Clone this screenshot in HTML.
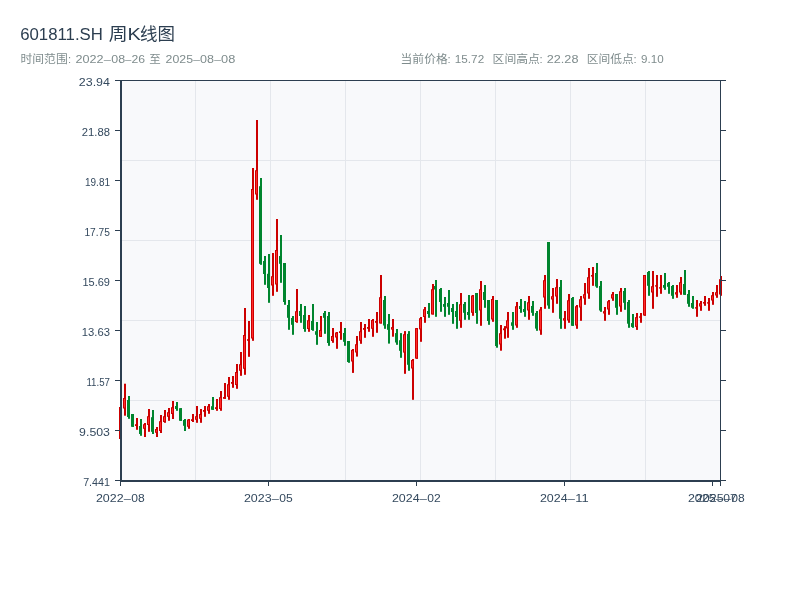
<!DOCTYPE html>
<html lang="zh"><head><meta charset="utf-8"><title>601811.SH 周K线图</title>
<style>html,body{margin:0;padding:0;background:#fff;overflow:hidden}svg{display:block}text{font-family:"Liberation Sans","Noto Sans CJK SC",sans-serif;white-space:pre}</style></head><body>
<svg width="800" height="600" viewBox="0 0 800 600">
<rect width="800" height="600" fill="#fff"/>
<text y="40.0" font-size="17.4" fill="#2c3e50"><tspan x="20.13" textLength="82.74" lengthAdjust="spacingAndGlyphs">601811.SH</tspan><tspan x="104.00"> </tspan><tspan x="108.70" textLength="18.90" lengthAdjust="spacingAndGlyphs">周</tspan><tspan x="127.53" textLength="13.34" lengthAdjust="spacingAndGlyphs">K</tspan><tspan x="139.95" textLength="35.00" lengthAdjust="spacingAndGlyphs">线图</tspan></text>
<text y="62.8" font-size="11.25" fill="#7f8c8d"><tspan x="20.50" textLength="47.20" lengthAdjust="spacingAndGlyphs" font-size="11.6">时间范围</tspan><tspan x="67.90">:</tspan><tspan x="72.00"> </tspan><tspan x="75.44" textLength="28.12" lengthAdjust="spacingAndGlyphs">2022</tspan><tspan x="102.52" fill-opacity="0.8" textLength="9.65" lengthAdjust="spacingAndGlyphs">-</tspan><tspan x="111.24" textLength="13.83" lengthAdjust="spacingAndGlyphs">08</tspan><tspan x="124.09" fill-opacity="0.8" textLength="8.43" lengthAdjust="spacingAndGlyphs">-</tspan><tspan x="131.44" textLength="13.62" lengthAdjust="spacingAndGlyphs">26</tspan><tspan x="146.00"> </tspan><tspan x="149.20" textLength="11.50" lengthAdjust="spacingAndGlyphs" font-size="11.6">至</tspan><tspan x="162.00"> </tspan><tspan x="165.64" textLength="27.43" lengthAdjust="spacingAndGlyphs">2025</tspan><tspan x="192.10" fill-opacity="0.8" textLength="9.11" lengthAdjust="spacingAndGlyphs">-</tspan><tspan x="200.14" textLength="13.93" lengthAdjust="spacingAndGlyphs">08</tspan><tspan x="213.10" fill-opacity="0.8" textLength="9.11" lengthAdjust="spacingAndGlyphs">-</tspan><tspan x="221.14" textLength="14.23" lengthAdjust="spacingAndGlyphs">08</tspan></text>
<text y="62.8" font-size="11.25" fill="#7f8c8d"><tspan x="400.60" textLength="47.10" lengthAdjust="spacingAndGlyphs" font-size="11.6">当前价格</tspan><tspan x="447.60">:</tspan><tspan x="452.00"> </tspan><tspan x="454.84" textLength="29.33" lengthAdjust="spacingAndGlyphs">15.72</tspan><tspan x="484.00"> </tspan><tspan x="488.00"> </tspan><tspan x="492.60" textLength="47.30" lengthAdjust="spacingAndGlyphs" font-size="11.6">区间高点</tspan><tspan x="539.40">:</tspan><tspan x="544.00"> </tspan><tspan x="546.74" textLength="31.73" lengthAdjust="spacingAndGlyphs">22.28</tspan><tspan x="579.00"> </tspan><tspan x="583.00"> </tspan><tspan x="586.70" textLength="47.00" lengthAdjust="spacingAndGlyphs" font-size="11.6">区间低点</tspan><tspan x="633.60">:</tspan><tspan x="638.00"> </tspan><tspan x="641.04" textLength="22.62" lengthAdjust="spacingAndGlyphs">9.10</tspan></text>
<rect x="121" y="80.5" width="599.5" height="400" fill="#f8f9fb"/>
<rect x="195" y="81" width="1" height="399" fill="#e4e7ec"/>
<rect x="270" y="81" width="1" height="399" fill="#e4e7ec"/>
<rect x="345" y="81" width="1" height="399" fill="#e4e7ec"/>
<rect x="420" y="81" width="1" height="399" fill="#e4e7ec"/>
<rect x="495" y="81" width="1" height="399" fill="#e4e7ec"/>
<rect x="570" y="81" width="1" height="399" fill="#e4e7ec"/>
<rect x="645" y="81" width="1" height="399" fill="#e4e7ec"/>
<rect x="122" y="160" width="598" height="1" fill="#e4e7ec"/>
<rect x="122" y="240" width="598" height="1" fill="#e4e7ec"/>
<rect x="122" y="320" width="598" height="1" fill="#e4e7ec"/>
<rect x="122" y="400" width="598" height="1" fill="#e4e7ec"/>
<rect x="120" y="406.5" width="2" height="33.0" fill="#cc0000"/>
<rect x="119" y="407" width="3" height="32" fill="#cc0000"/>
<rect x="120" y="408" width="1" height="30" fill="#ff2b2b"/>
<rect x="124" y="383.7" width="2" height="32.0" fill="#cc0000"/>
<rect x="123" y="398" width="3" height="10.5" fill="#cc0000"/>
<rect x="124" y="399" width="1" height="8.5" fill="#ff2b2b"/>
<rect x="128" y="396" width="2" height="22.8" fill="#00852e"/>
<rect x="127" y="400" width="3" height="17" fill="#00852e"/>
<rect x="132" y="414" width="2" height="12.8" fill="#00852e"/>
<rect x="131" y="414" width="3" height="12.8" fill="#00852e"/>
<rect x="136" y="418" width="2" height="11.8" fill="#cc0000"/>
<rect x="135" y="424.2" width="3" height="1.8" fill="#cc0000"/>
<rect x="140" y="419" width="2" height="16.8" fill="#00852e"/>
<rect x="139" y="426" width="3" height="8" fill="#00852e"/>
<rect x="144" y="423" width="2" height="14" fill="#cc0000"/>
<rect x="143" y="424.2" width="3" height="4.6" fill="#cc0000"/>
<rect x="144" y="425.2" width="1" height="2.6" fill="#ff2b2b"/>
<rect x="148" y="409" width="2" height="22.8" fill="#cc0000"/>
<rect x="147" y="416.2" width="3" height="8.8" fill="#cc0000"/>
<rect x="148" y="417.2" width="1" height="6.8" fill="#ff2b2b"/>
<rect x="152" y="410" width="2" height="24" fill="#00852e"/>
<rect x="151" y="417.2" width="3" height="14.6" fill="#00852e"/>
<rect x="156" y="427" width="2" height="10" fill="#cc0000"/>
<rect x="155" y="429" width="3" height="3.8" fill="#cc0000"/>
<rect x="156" y="430" width="1" height="1.8" fill="#ff2b2b"/>
<rect x="160" y="415" width="2" height="18" fill="#cc0000"/>
<rect x="159" y="421.2" width="3" height="9.8" fill="#cc0000"/>
<rect x="160" y="422.2" width="1" height="7.8" fill="#ff2b2b"/>
<rect x="164" y="410" width="2" height="12.8" fill="#cc0000"/>
<rect x="163" y="416.2" width="3" height="5.8" fill="#cc0000"/>
<rect x="164" y="417.2" width="1" height="3.8" fill="#ff2b2b"/>
<rect x="168" y="408" width="2" height="12.8" fill="#cc0000"/>
<rect x="167" y="412.2" width="3" height="4.6" fill="#cc0000"/>
<rect x="168" y="413.2" width="1" height="2.6" fill="#ff2b2b"/>
<rect x="172" y="401" width="2" height="18" fill="#cc0000"/>
<rect x="171" y="407.2" width="3" height="6.8" fill="#cc0000"/>
<rect x="172" y="408.2" width="1" height="4.8" fill="#ff2b2b"/>
<rect x="176" y="402" width="2" height="8.8" fill="#00852e"/>
<rect x="175" y="406" width="3" height="3" fill="#00852e"/>
<rect x="180" y="408.2" width="2" height="12.6" fill="#00852e"/>
<rect x="179" y="408.2" width="3" height="12.6" fill="#00852e"/>
<rect x="184" y="419" width="2" height="12" fill="#00852e"/>
<rect x="183" y="420" width="3" height="5.8" fill="#00852e"/>
<rect x="188" y="419" width="2" height="9.8" fill="#cc0000"/>
<rect x="187" y="419.5" width="3" height="7.3" fill="#cc0000"/>
<rect x="188" y="420.5" width="1" height="5.3" fill="#ff2b2b"/>
<rect x="192" y="414" width="2" height="8" fill="#cc0000"/>
<rect x="191" y="419.2" width="3" height="1.8" fill="#cc0000"/>
<rect x="196" y="406" width="2" height="16.8" fill="#cc0000"/>
<rect x="195" y="416.2" width="3" height="3.6" fill="#cc0000"/>
<rect x="196" y="417.2" width="1" height="1.6" fill="#ff2b2b"/>
<rect x="200" y="409" width="2" height="13.8" fill="#cc0000"/>
<rect x="199" y="414" width="3" height="4.8" fill="#cc0000"/>
<rect x="200" y="415" width="1" height="2.8" fill="#ff2b2b"/>
<rect x="204" y="406" width="2" height="10.8" fill="#cc0000"/>
<rect x="203" y="410" width="3" height="1.8" fill="#cc0000"/>
<rect x="208" y="404" width="2" height="9.8" fill="#cc0000"/>
<rect x="207" y="406.2" width="3" height="4.6" fill="#cc0000"/>
<rect x="208" y="407.2" width="1" height="2.6" fill="#ff2b2b"/>
<rect x="212" y="397" width="2" height="12.8" fill="#00852e"/>
<rect x="211" y="406.2" width="3" height="3.6" fill="#00852e"/>
<rect x="216" y="399" width="2" height="11.8" fill="#cc0000"/>
<rect x="215" y="407.2" width="3" height="1.8" fill="#cc0000"/>
<rect x="220" y="391" width="2" height="19.8" fill="#cc0000"/>
<rect x="219" y="397.2" width="3" height="11.8" fill="#cc0000"/>
<rect x="220" y="398.2" width="1" height="9.8" fill="#ff2b2b"/>
<rect x="224" y="383" width="2" height="15.8" fill="#cc0000"/>
<rect x="223" y="397" width="3" height="1.8" fill="#cc0000"/>
<rect x="228" y="377" width="2" height="22.8" fill="#cc0000"/>
<rect x="227" y="384.2" width="3" height="12.6" fill="#cc0000"/>
<rect x="228" y="385.2" width="1" height="10.6" fill="#ff2b2b"/>
<rect x="232" y="376" width="2" height="11.8" fill="#cc0000"/>
<rect x="231" y="382" width="3" height="1.8" fill="#cc0000"/>
<rect x="236" y="364" width="2" height="24.8" fill="#cc0000"/>
<rect x="235" y="372" width="3" height="13" fill="#cc0000"/>
<rect x="236" y="373" width="1" height="11" fill="#ff2b2b"/>
<rect x="240" y="352" width="2" height="23.8" fill="#cc0000"/>
<rect x="239" y="364.2" width="3" height="6.6" fill="#cc0000"/>
<rect x="240" y="365.2" width="1" height="4.6" fill="#ff2b2b"/>
<rect x="244" y="308" width="2" height="66.8" fill="#cc0000"/>
<rect x="243" y="335" width="3" height="33.8" fill="#cc0000"/>
<rect x="244" y="336" width="1" height="31.8" fill="#ff2b2b"/>
<rect x="248" y="321" width="2" height="35.8" fill="#cc0000"/>
<rect x="247" y="339.2" width="3" height="1.6" fill="#cc0000"/>
<rect x="252" y="168" width="2" height="172.8" fill="#cc0000"/>
<rect x="251" y="189" width="3" height="149.5" fill="#cc0000"/>
<rect x="252" y="190" width="1" height="147.5" fill="#ff2b2b"/>
<rect x="256" y="120" width="2" height="79.8" fill="#cc0000"/>
<rect x="255" y="170.2" width="3" height="24.3" fill="#cc0000"/>
<rect x="256" y="171.2" width="1" height="22.3" fill="#ff2b2b"/>
<rect x="260" y="178" width="2" height="86.8" fill="#00852e"/>
<rect x="259" y="186.2" width="3" height="77.6" fill="#00852e"/>
<rect x="264" y="256" width="2" height="28.8" fill="#00852e"/>
<rect x="263" y="261" width="3" height="13" fill="#00852e"/>
<rect x="268" y="254" width="2" height="48.8" fill="#00852e"/>
<rect x="267" y="273.8" width="3" height="14.2" fill="#00852e"/>
<rect x="272" y="253" width="2" height="42.8" fill="#cc0000"/>
<rect x="271" y="276.2" width="3" height="9.3" fill="#cc0000"/>
<rect x="272" y="277.2" width="1" height="7.3" fill="#ff2b2b"/>
<rect x="276" y="219" width="2" height="72.8" fill="#cc0000"/>
<rect x="275" y="250" width="3" height="34.5" fill="#cc0000"/>
<rect x="276" y="251" width="1" height="32.5" fill="#ff2b2b"/>
<rect x="280" y="235" width="2" height="47.8" fill="#00852e"/>
<rect x="279" y="256" width="3" height="7.8" fill="#00852e"/>
<rect x="284" y="263" width="2" height="41.8" fill="#00852e"/>
<rect x="283" y="263" width="3" height="39" fill="#00852e"/>
<rect x="288" y="300" width="2" height="29.8" fill="#00852e"/>
<rect x="287" y="305" width="3" height="12.8" fill="#00852e"/>
<rect x="292" y="316" width="2" height="18.8" fill="#00852e"/>
<rect x="291" y="318" width="3" height="6.8" fill="#00852e"/>
<rect x="296" y="289" width="2" height="33.8" fill="#cc0000"/>
<rect x="295" y="311.2" width="3" height="10.8" fill="#cc0000"/>
<rect x="296" y="312.2" width="1" height="8.8" fill="#ff2b2b"/>
<rect x="300" y="304" width="2" height="18.8" fill="#00852e"/>
<rect x="299" y="311" width="3" height="5" fill="#00852e"/>
<rect x="304" y="306" width="2" height="25.8" fill="#00852e"/>
<rect x="303" y="315" width="3" height="14" fill="#00852e"/>
<rect x="308" y="315" width="2" height="16.8" fill="#cc0000"/>
<rect x="307" y="320.2" width="3" height="8.8" fill="#cc0000"/>
<rect x="308" y="321.2" width="1" height="6.8" fill="#ff2b2b"/>
<rect x="312" y="304" width="2" height="26.8" fill="#00852e"/>
<rect x="311" y="321" width="3" height="9" fill="#00852e"/>
<rect x="316" y="322" width="2" height="22.8" fill="#00852e"/>
<rect x="315" y="331.2" width="3" height="3.6" fill="#00852e"/>
<rect x="320" y="316" width="2" height="20.8" fill="#cc0000"/>
<rect x="319" y="330" width="3" height="6.8" fill="#cc0000"/>
<rect x="320" y="331" width="1" height="4.8" fill="#ff2b2b"/>
<rect x="324" y="311" width="2" height="22.8" fill="#00852e"/>
<rect x="323" y="313" width="3" height="4.8" fill="#00852e"/>
<rect x="328" y="312" width="2" height="33.8" fill="#00852e"/>
<rect x="327" y="316" width="3" height="27" fill="#00852e"/>
<rect x="332" y="328" width="2" height="14.8" fill="#cc0000"/>
<rect x="331" y="336" width="3" height="5" fill="#cc0000"/>
<rect x="332" y="337" width="1" height="3" fill="#ff2b2b"/>
<rect x="336" y="332" width="2" height="16.8" fill="#cc0000"/>
<rect x="335" y="332.5" width="3" height="5.0" fill="#cc0000"/>
<rect x="336" y="333.5" width="1" height="3.0" fill="#ff2b2b"/>
<rect x="340" y="322" width="2" height="17.8" fill="#cc0000"/>
<rect x="339" y="331.2" width="3" height="1.8" fill="#cc0000"/>
<rect x="344" y="328" width="2" height="17.8" fill="#00852e"/>
<rect x="343" y="333" width="3" height="8.8" fill="#00852e"/>
<rect x="348" y="341" width="2" height="21.8" fill="#00852e"/>
<rect x="347" y="341" width="3" height="21" fill="#00852e"/>
<rect x="352" y="349" width="2" height="23.9" fill="#cc0000"/>
<rect x="351" y="349.9" width="3" height="11.6" fill="#cc0000"/>
<rect x="352" y="350.9" width="1" height="9.6" fill="#ff2b2b"/>
<rect x="356" y="336" width="2" height="20.6" fill="#cc0000"/>
<rect x="355" y="344.2" width="3" height="8.3" fill="#cc0000"/>
<rect x="356" y="345.2" width="1" height="6.3" fill="#ff2b2b"/>
<rect x="360" y="322" width="2" height="21.8" fill="#cc0000"/>
<rect x="359" y="331.2" width="3" height="9.6" fill="#cc0000"/>
<rect x="360" y="332.2" width="1" height="7.6" fill="#ff2b2b"/>
<rect x="364" y="324" width="2" height="13.8" fill="#cc0000"/>
<rect x="363" y="328" width="3" height="1.8" fill="#cc0000"/>
<rect x="368" y="319" width="2" height="12.8" fill="#cc0000"/>
<rect x="367" y="327" width="3" height="1.8" fill="#cc0000"/>
<rect x="372" y="319" width="2" height="17.8" fill="#cc0000"/>
<rect x="371" y="320" width="3" height="8.8" fill="#cc0000"/>
<rect x="372" y="321" width="1" height="6.8" fill="#ff2b2b"/>
<rect x="376" y="312" width="2" height="20.8" fill="#cc0000"/>
<rect x="375" y="321" width="3" height="1.8" fill="#cc0000"/>
<rect x="380" y="275" width="2" height="48.5" fill="#cc0000"/>
<rect x="379" y="297.2" width="3" height="26.3" fill="#cc0000"/>
<rect x="380" y="298.2" width="1" height="24.3" fill="#ff2b2b"/>
<rect x="384" y="296" width="2" height="32.8" fill="#00852e"/>
<rect x="383" y="300" width="3" height="25.5" fill="#00852e"/>
<rect x="388" y="314" width="2" height="29.6" fill="#00852e"/>
<rect x="387" y="324.1" width="3" height="5.7" fill="#00852e"/>
<rect x="392" y="319" width="2" height="17.7" fill="#cc0000"/>
<rect x="391" y="327.1" width="3" height="2.5" fill="#cc0000"/>
<rect x="392" y="328.1" width="1" height="0.5" fill="#ff2b2b"/>
<rect x="396" y="329" width="2" height="15.8" fill="#00852e"/>
<rect x="395" y="333.1" width="3" height="9.4" fill="#00852e"/>
<rect x="400" y="333.1" width="2" height="24.7" fill="#00852e"/>
<rect x="399" y="340.2" width="3" height="10.6" fill="#00852e"/>
<rect x="404" y="331.1" width="2" height="42.7" fill="#cc0000"/>
<rect x="403" y="334.2" width="3" height="18.4" fill="#cc0000"/>
<rect x="404" y="335.2" width="1" height="16.4" fill="#ff2b2b"/>
<rect x="408" y="331.1" width="2" height="39.7" fill="#00852e"/>
<rect x="407" y="333.9" width="3" height="30.9" fill="#00852e"/>
<rect x="412" y="359" width="2" height="40.8" fill="#cc0000"/>
<rect x="411" y="360" width="3" height="8.5" fill="#cc0000"/>
<rect x="412" y="361" width="1" height="6.5" fill="#ff2b2b"/>
<rect x="416" y="328.1" width="2" height="30.7" fill="#cc0000"/>
<rect x="415" y="328.1" width="3" height="30.5" fill="#cc0000"/>
<rect x="416" y="329.1" width="1" height="28.5" fill="#ff2b2b"/>
<rect x="420" y="317" width="2" height="24.8" fill="#cc0000"/>
<rect x="419" y="318.2" width="3" height="11.2" fill="#cc0000"/>
<rect x="420" y="319.2" width="1" height="9.2" fill="#ff2b2b"/>
<rect x="424" y="307" width="2" height="15.8" fill="#cc0000"/>
<rect x="423" y="309.2" width="3" height="7.8" fill="#cc0000"/>
<rect x="424" y="310.2" width="1" height="5.8" fill="#ff2b2b"/>
<rect x="428" y="303" width="2" height="14.8" fill="#00852e"/>
<rect x="427" y="311" width="3" height="3" fill="#00852e"/>
<rect x="432" y="284" width="2" height="30.5" fill="#cc0000"/>
<rect x="431" y="289.2" width="3" height="25.3" fill="#cc0000"/>
<rect x="432" y="290.2" width="1" height="23.3" fill="#ff2b2b"/>
<rect x="435" y="280" width="2" height="36.8" fill="#00852e"/>
<rect x="434" y="286" width="3" height="3.5" fill="#00852e"/>
<rect x="440" y="288" width="2" height="23.8" fill="#00852e"/>
<rect x="439" y="289" width="3" height="13" fill="#00852e"/>
<rect x="444" y="297" width="2" height="19.8" fill="#00852e"/>
<rect x="443" y="304" width="3" height="2.8" fill="#00852e"/>
<rect x="448" y="290" width="2" height="24.8" fill="#00852e"/>
<rect x="447" y="303" width="3" height="3.8" fill="#00852e"/>
<rect x="452" y="304" width="2" height="19.8" fill="#00852e"/>
<rect x="451" y="308" width="3" height="4" fill="#00852e"/>
<rect x="456" y="302" width="2" height="26.8" fill="#00852e"/>
<rect x="455" y="311" width="3" height="6" fill="#00852e"/>
<rect x="460" y="293" width="2" height="34.8" fill="#cc0000"/>
<rect x="459" y="304.2" width="3" height="16.6" fill="#cc0000"/>
<rect x="460" y="305.2" width="1" height="14.6" fill="#ff2b2b"/>
<rect x="464" y="302" width="2" height="17.8" fill="#00852e"/>
<rect x="463" y="304" width="3" height="8.8" fill="#00852e"/>
<rect x="468" y="295" width="2" height="24.8" fill="#00852e"/>
<rect x="467" y="312" width="3" height="3" fill="#00852e"/>
<rect x="472" y="295" width="2" height="20.8" fill="#cc0000"/>
<rect x="471" y="295.5" width="3" height="17.3" fill="#cc0000"/>
<rect x="472" y="296.5" width="1" height="15.3" fill="#ff2b2b"/>
<rect x="476" y="293" width="2" height="30.8" fill="#00852e"/>
<rect x="475" y="293" width="3" height="20" fill="#00852e"/>
<rect x="480" y="281" width="2" height="44.8" fill="#cc0000"/>
<rect x="479" y="289.2" width="3" height="21.3" fill="#cc0000"/>
<rect x="480" y="290.2" width="1" height="19.3" fill="#ff2b2b"/>
<rect x="484" y="285" width="2" height="22.8" fill="#00852e"/>
<rect x="483" y="292" width="3" height="8" fill="#00852e"/>
<rect x="488" y="300" width="2" height="24.8" fill="#00852e"/>
<rect x="487" y="300" width="3" height="21" fill="#00852e"/>
<rect x="492" y="296" width="2" height="25.8" fill="#cc0000"/>
<rect x="491" y="299" width="3" height="20.5" fill="#cc0000"/>
<rect x="492" y="300" width="1" height="18.5" fill="#ff2b2b"/>
<rect x="496" y="300" width="2" height="47.7" fill="#00852e"/>
<rect x="495" y="300" width="3" height="46" fill="#00852e"/>
<rect x="500" y="325" width="2" height="25.7" fill="#cc0000"/>
<rect x="499" y="333.2" width="3" height="11.3" fill="#cc0000"/>
<rect x="500" y="334.2" width="1" height="9.3" fill="#ff2b2b"/>
<rect x="504" y="326.1" width="2" height="12.6" fill="#cc0000"/>
<rect x="503" y="328.4" width="3" height="1.8" fill="#cc0000"/>
<rect x="507" y="312" width="2" height="25.8" fill="#cc0000"/>
<rect x="506" y="320.3" width="3" height="8.1" fill="#cc0000"/>
<rect x="507" y="321.3" width="1" height="6.1" fill="#ff2b2b"/>
<rect x="512" y="312" width="2" height="17.8" fill="#00852e"/>
<rect x="511" y="322.3" width="3" height="3.5" fill="#00852e"/>
<rect x="516" y="302" width="2" height="25.8" fill="#cc0000"/>
<rect x="515" y="306.2" width="3" height="19.3" fill="#cc0000"/>
<rect x="516" y="307.2" width="1" height="17.3" fill="#ff2b2b"/>
<rect x="520" y="299" width="2" height="13.8" fill="#00852e"/>
<rect x="519" y="306" width="3" height="3" fill="#00852e"/>
<rect x="524" y="301" width="2" height="15.8" fill="#00852e"/>
<rect x="523" y="309" width="3" height="3" fill="#00852e"/>
<rect x="528" y="296" width="2" height="23.8" fill="#cc0000"/>
<rect x="527" y="302.2" width="3" height="8.3" fill="#cc0000"/>
<rect x="528" y="303.2" width="1" height="6.3" fill="#ff2b2b"/>
<rect x="532" y="301" width="2" height="14.8" fill="#00852e"/>
<rect x="531" y="306" width="3" height="6.8" fill="#00852e"/>
<rect x="536" y="311" width="2" height="19.8" fill="#00852e"/>
<rect x="535" y="313" width="3" height="15.6" fill="#00852e"/>
<rect x="540" y="307" width="2" height="27.8" fill="#cc0000"/>
<rect x="539" y="309.5" width="3" height="21.0" fill="#cc0000"/>
<rect x="540" y="310.5" width="1" height="19.0" fill="#ff2b2b"/>
<rect x="544" y="275" width="2" height="33.8" fill="#cc0000"/>
<rect x="543" y="280.2" width="3" height="17.3" fill="#cc0000"/>
<rect x="544" y="281.2" width="1" height="15.3" fill="#ff2b2b"/>
<rect x="548" y="242" width="2" height="66.8" fill="#00852e"/>
<rect x="547" y="242" width="3" height="63.5" fill="#00852e"/>
<rect x="552" y="288" width="2" height="24.8" fill="#cc0000"/>
<rect x="551" y="296.2" width="3" height="3.3" fill="#cc0000"/>
<rect x="552" y="297.2" width="1" height="1.3" fill="#ff2b2b"/>
<rect x="556" y="279" width="2" height="24.8" fill="#cc0000"/>
<rect x="555" y="287.2" width="3" height="9.3" fill="#cc0000"/>
<rect x="556" y="288.2" width="1" height="7.3" fill="#ff2b2b"/>
<rect x="560" y="280" width="2" height="48.8" fill="#00852e"/>
<rect x="559" y="287" width="3" height="31.8" fill="#00852e"/>
<rect x="564" y="311" width="2" height="17.8" fill="#cc0000"/>
<rect x="563" y="318.2" width="3" height="2.4" fill="#cc0000"/>
<rect x="564" y="319.2" width="1" height="0.4" fill="#ff2b2b"/>
<rect x="568" y="294" width="2" height="28.8" fill="#cc0000"/>
<rect x="567" y="300.2" width="3" height="20.3" fill="#cc0000"/>
<rect x="568" y="301.2" width="1" height="18.3" fill="#ff2b2b"/>
<rect x="572" y="297" width="2" height="28.8" fill="#00852e"/>
<rect x="571" y="298" width="3" height="27.8" fill="#00852e"/>
<rect x="576" y="305" width="2" height="23.8" fill="#cc0000"/>
<rect x="575" y="306.2" width="3" height="19.3" fill="#cc0000"/>
<rect x="576" y="307.2" width="1" height="17.3" fill="#ff2b2b"/>
<rect x="580" y="296" width="2" height="24.8" fill="#cc0000"/>
<rect x="579" y="299.2" width="3" height="8.3" fill="#cc0000"/>
<rect x="580" y="300.2" width="1" height="6.3" fill="#ff2b2b"/>
<rect x="584" y="283" width="2" height="21.8" fill="#cc0000"/>
<rect x="583" y="294.2" width="3" height="4.3" fill="#cc0000"/>
<rect x="584" y="295.2" width="1" height="2.3" fill="#ff2b2b"/>
<rect x="588" y="268" width="2" height="30.8" fill="#cc0000"/>
<rect x="587" y="277.2" width="3" height="16.3" fill="#cc0000"/>
<rect x="588" y="278.2" width="1" height="14.3" fill="#ff2b2b"/>
<rect x="592" y="267" width="2" height="18.8" fill="#cc0000"/>
<rect x="591" y="275" width="3" height="1.6" fill="#cc0000"/>
<rect x="596" y="263" width="2" height="24.8" fill="#00852e"/>
<rect x="595" y="273" width="3" height="13.5" fill="#00852e"/>
<rect x="600" y="281" width="2" height="30.8" fill="#00852e"/>
<rect x="599" y="286" width="3" height="24.5" fill="#00852e"/>
<rect x="604" y="307" width="2" height="13.8" fill="#cc0000"/>
<rect x="603" y="311.2" width="3" height="2.3" fill="#cc0000"/>
<rect x="604" y="312.2" width="1" height="0.3" fill="#ff2b2b"/>
<rect x="608" y="300" width="2" height="14.8" fill="#cc0000"/>
<rect x="607" y="301.2" width="3" height="8.3" fill="#cc0000"/>
<rect x="608" y="302.2" width="1" height="6.3" fill="#ff2b2b"/>
<rect x="612" y="292" width="2" height="8.8" fill="#cc0000"/>
<rect x="611" y="294.2" width="3" height="4.3" fill="#cc0000"/>
<rect x="612" y="295.2" width="1" height="2.3" fill="#ff2b2b"/>
<rect x="616" y="294" width="2" height="20.8" fill="#00852e"/>
<rect x="615" y="294" width="3" height="13.8" fill="#00852e"/>
<rect x="620" y="288" width="2" height="23.8" fill="#cc0000"/>
<rect x="619" y="291.2" width="3" height="15.3" fill="#cc0000"/>
<rect x="620" y="292.2" width="1" height="13.3" fill="#ff2b2b"/>
<rect x="624" y="288" width="2" height="21.8" fill="#00852e"/>
<rect x="623" y="291" width="3" height="11.8" fill="#00852e"/>
<rect x="628" y="300" width="2" height="27.8" fill="#00852e"/>
<rect x="627" y="302" width="3" height="21.7" fill="#00852e"/>
<rect x="632" y="314" width="2" height="13.8" fill="#00852e"/>
<rect x="631" y="323.1" width="3" height="3.8" fill="#00852e"/>
<rect x="636" y="313" width="2" height="16.9" fill="#cc0000"/>
<rect x="635" y="317.1" width="3" height="9.8" fill="#cc0000"/>
<rect x="636" y="318.1" width="1" height="7.8" fill="#ff2b2b"/>
<rect x="640" y="313" width="2" height="9.8" fill="#cc0000"/>
<rect x="639" y="316.3" width="3" height="1.5" fill="#cc0000"/>
<rect x="644" y="275" width="2" height="40.8" fill="#cc0000"/>
<rect x="643" y="275" width="3" height="40.5" fill="#cc0000"/>
<rect x="644" y="276" width="1" height="38.5" fill="#ff2b2b"/>
<rect x="648" y="271" width="2" height="24.8" fill="#00852e"/>
<rect x="647" y="272" width="3" height="13.8" fill="#00852e"/>
<rect x="652" y="271" width="2" height="37.8" fill="#cc0000"/>
<rect x="651" y="286.2" width="3" height="6.3" fill="#cc0000"/>
<rect x="652" y="287.2" width="1" height="4.3" fill="#ff2b2b"/>
<rect x="656" y="275" width="2" height="21.8" fill="#cc0000"/>
<rect x="655" y="285.2" width="3" height="1.4" fill="#cc0000"/>
<rect x="660" y="275" width="2" height="18.8" fill="#cc0000"/>
<rect x="659" y="287.2" width="3" height="1.4" fill="#cc0000"/>
<rect x="664" y="273" width="2" height="16.8" fill="#00852e"/>
<rect x="663" y="285" width="3" height="2.8" fill="#00852e"/>
<rect x="668" y="282" width="2" height="11.8" fill="#00852e"/>
<rect x="667" y="283" width="3" height="3.8" fill="#00852e"/>
<rect x="672" y="285" width="2" height="13.8" fill="#00852e"/>
<rect x="671" y="286" width="3" height="9.8" fill="#00852e"/>
<rect x="676" y="285" width="2" height="12.8" fill="#cc0000"/>
<rect x="675" y="292.2" width="3" height="2.3" fill="#cc0000"/>
<rect x="676" y="293.2" width="1" height="0.3" fill="#ff2b2b"/>
<rect x="680" y="277" width="2" height="17.8" fill="#cc0000"/>
<rect x="679" y="282.2" width="3" height="10.3" fill="#cc0000"/>
<rect x="680" y="283.2" width="1" height="8.3" fill="#ff2b2b"/>
<rect x="684" y="270" width="2" height="24.8" fill="#00852e"/>
<rect x="683" y="284" width="3" height="10.8" fill="#00852e"/>
<rect x="688" y="290" width="2" height="16.8" fill="#00852e"/>
<rect x="687" y="294" width="3" height="9.8" fill="#00852e"/>
<rect x="692" y="296" width="2" height="12.8" fill="#00852e"/>
<rect x="691" y="303" width="3" height="4.8" fill="#00852e"/>
<rect x="696" y="300" width="2" height="16.8" fill="#cc0000"/>
<rect x="695" y="307.2" width="3" height="1.4" fill="#cc0000"/>
<rect x="700" y="301" width="2" height="9.8" fill="#cc0000"/>
<rect x="699" y="303.2" width="3" height="3.3" fill="#cc0000"/>
<rect x="700" y="304.2" width="1" height="1.3" fill="#ff2b2b"/>
<rect x="704" y="296" width="2" height="9.8" fill="#cc0000"/>
<rect x="703" y="302" width="3" height="1.6" fill="#cc0000"/>
<rect x="708" y="298" width="2" height="12.8" fill="#cc0000"/>
<rect x="707" y="302.2" width="3" height="1.4" fill="#cc0000"/>
<rect x="712" y="292" width="2" height="12.8" fill="#cc0000"/>
<rect x="711" y="295.2" width="3" height="5.3" fill="#cc0000"/>
<rect x="712" y="296.2" width="1" height="3.3" fill="#ff2b2b"/>
<rect x="716" y="285" width="2" height="12.8" fill="#cc0000"/>
<rect x="715" y="292.2" width="3" height="3.3" fill="#cc0000"/>
<rect x="716" y="293.2" width="1" height="1.3" fill="#ff2b2b"/>
<rect x="720" y="276" width="2" height="19.8" fill="#cc0000"/>
<rect x="719" y="279.2" width="3" height="15.3" fill="#cc0000"/>
<rect x="720" y="280.2" width="1" height="13.3" fill="#ff2b2b"/>
<rect x="120" y="80" width="2" height="402" fill="#2c3e50"/>
<rect x="120" y="480" width="601" height="2" fill="#2c3e50"/>
<rect x="120" y="80" width="601" height="1" fill="#2c3e50"/>
<rect x="720" y="80" width="1" height="402" fill="#2c3e50"/>
<rect x="115" y="80" width="5" height="1" fill="#2c3e50"/>
<rect x="721" y="80" width="5" height="1" fill="#2c3e50"/>
<text y="86.1" font-size="11.25" fill="#34495e"><tspan x="78.84" textLength="31.12" lengthAdjust="spacingAndGlyphs">23.94</tspan></text>
<rect x="115" y="130" width="5" height="1" fill="#2c3e50"/>
<rect x="721" y="130" width="5" height="1" fill="#2c3e50"/>
<text y="136.1" font-size="11.25" fill="#34495e"><tspan x="81.84" textLength="28.12" lengthAdjust="spacingAndGlyphs">21.88</tspan></text>
<rect x="115" y="180" width="5" height="1" fill="#2c3e50"/>
<rect x="721" y="180" width="5" height="1" fill="#2c3e50"/>
<text y="186.1" font-size="11.25" fill="#34495e"><tspan x="85.04" textLength="24.93" lengthAdjust="spacingAndGlyphs">19.81</tspan></text>
<rect x="115" y="230" width="5" height="1" fill="#2c3e50"/>
<rect x="721" y="230" width="5" height="1" fill="#2c3e50"/>
<text y="236.1" font-size="11.25" fill="#34495e"><tspan x="84.44" textLength="25.53" lengthAdjust="spacingAndGlyphs">17.75</tspan></text>
<rect x="115" y="280" width="5" height="1" fill="#2c3e50"/>
<rect x="721" y="280" width="5" height="1" fill="#2c3e50"/>
<text y="286.1" font-size="11.25" fill="#34495e"><tspan x="82.44" textLength="27.53" lengthAdjust="spacingAndGlyphs">15.69</tspan></text>
<rect x="115" y="330" width="5" height="1" fill="#2c3e50"/>
<rect x="721" y="330" width="5" height="1" fill="#2c3e50"/>
<text y="336.1" font-size="11.25" fill="#34495e"><tspan x="81.84" textLength="28.12" lengthAdjust="spacingAndGlyphs">13.63</tspan></text>
<rect x="115" y="380" width="5" height="1" fill="#2c3e50"/>
<rect x="721" y="380" width="5" height="1" fill="#2c3e50"/>
<text y="386.1" font-size="11.25" fill="#34495e"><tspan x="86.44" textLength="23.53" lengthAdjust="spacingAndGlyphs">11.57</tspan></text>
<rect x="115" y="430" width="5" height="1" fill="#2c3e50"/>
<rect x="721" y="430" width="5" height="1" fill="#2c3e50"/>
<text y="436.1" font-size="11.25" fill="#34495e"><tspan x="79.14" textLength="30.83" lengthAdjust="spacingAndGlyphs">9.503</tspan></text>
<rect x="115" y="480" width="5" height="1" fill="#2c3e50"/>
<rect x="721" y="480" width="5" height="1" fill="#2c3e50"/>
<text y="486.1" font-size="11.25" fill="#34495e"><tspan x="83.14" textLength="26.83" lengthAdjust="spacingAndGlyphs">7.441</tspan></text>
<rect x="120" y="482" width="1" height="4" fill="#2c3e50"/>
<text y="502" font-size="11.25" fill="#34495e"><tspan x="95.94" textLength="27.72" lengthAdjust="spacingAndGlyphs">2022</tspan><tspan x="122.62" fill-opacity="0.8" textLength="9.65" lengthAdjust="spacingAndGlyphs">-</tspan><tspan x="131.24" textLength="13.42" lengthAdjust="spacingAndGlyphs">08</tspan></text>
<rect x="268" y="482" width="1" height="4" fill="#2c3e50"/>
<text y="502" font-size="11.25" fill="#34495e"><tspan x="243.94" textLength="27.73" lengthAdjust="spacingAndGlyphs">2023</tspan><tspan x="270.62" fill-opacity="0.8" textLength="9.65" lengthAdjust="spacingAndGlyphs">-</tspan><tspan x="279.24" textLength="13.43" lengthAdjust="spacingAndGlyphs">05</tspan></text>
<rect x="416" y="482" width="1" height="4" fill="#2c3e50"/>
<text y="502" font-size="11.25" fill="#34495e"><tspan x="391.94" textLength="27.73" lengthAdjust="spacingAndGlyphs">2024</tspan><tspan x="418.62" fill-opacity="0.8" textLength="9.65" lengthAdjust="spacingAndGlyphs">-</tspan><tspan x="427.24" textLength="13.43" lengthAdjust="spacingAndGlyphs">02</tspan></text>
<rect x="564" y="482" width="1" height="4" fill="#2c3e50"/>
<text y="502" font-size="11.25" fill="#34495e"><tspan x="539.94" textLength="27.73" lengthAdjust="spacingAndGlyphs">2024</tspan><tspan x="566.62" fill-opacity="0.8" textLength="9.65" lengthAdjust="spacingAndGlyphs">-</tspan><tspan x="575.24" textLength="13.43" lengthAdjust="spacingAndGlyphs">11</tspan></text>
<rect x="712" y="482" width="1" height="4" fill="#2c3e50"/>
<text y="502" font-size="11.25" fill="#34495e"><tspan x="687.94" textLength="27.73" lengthAdjust="spacingAndGlyphs">2025</tspan><tspan x="714.62" fill-opacity="0.8" textLength="9.65" lengthAdjust="spacingAndGlyphs">-</tspan><tspan x="723.24" textLength="13.43" lengthAdjust="spacingAndGlyphs">07</tspan></text>
<rect x="720" y="482" width="1" height="4" fill="#2c3e50"/>
<text y="502" font-size="11.25" fill="#34495e"><tspan x="695.94" textLength="27.73" lengthAdjust="spacingAndGlyphs">2025</tspan><tspan x="722.62" fill-opacity="0.8" textLength="9.65" lengthAdjust="spacingAndGlyphs">-</tspan><tspan x="731.24" textLength="13.43" lengthAdjust="spacingAndGlyphs">08</tspan></text>
</svg></body></html>
